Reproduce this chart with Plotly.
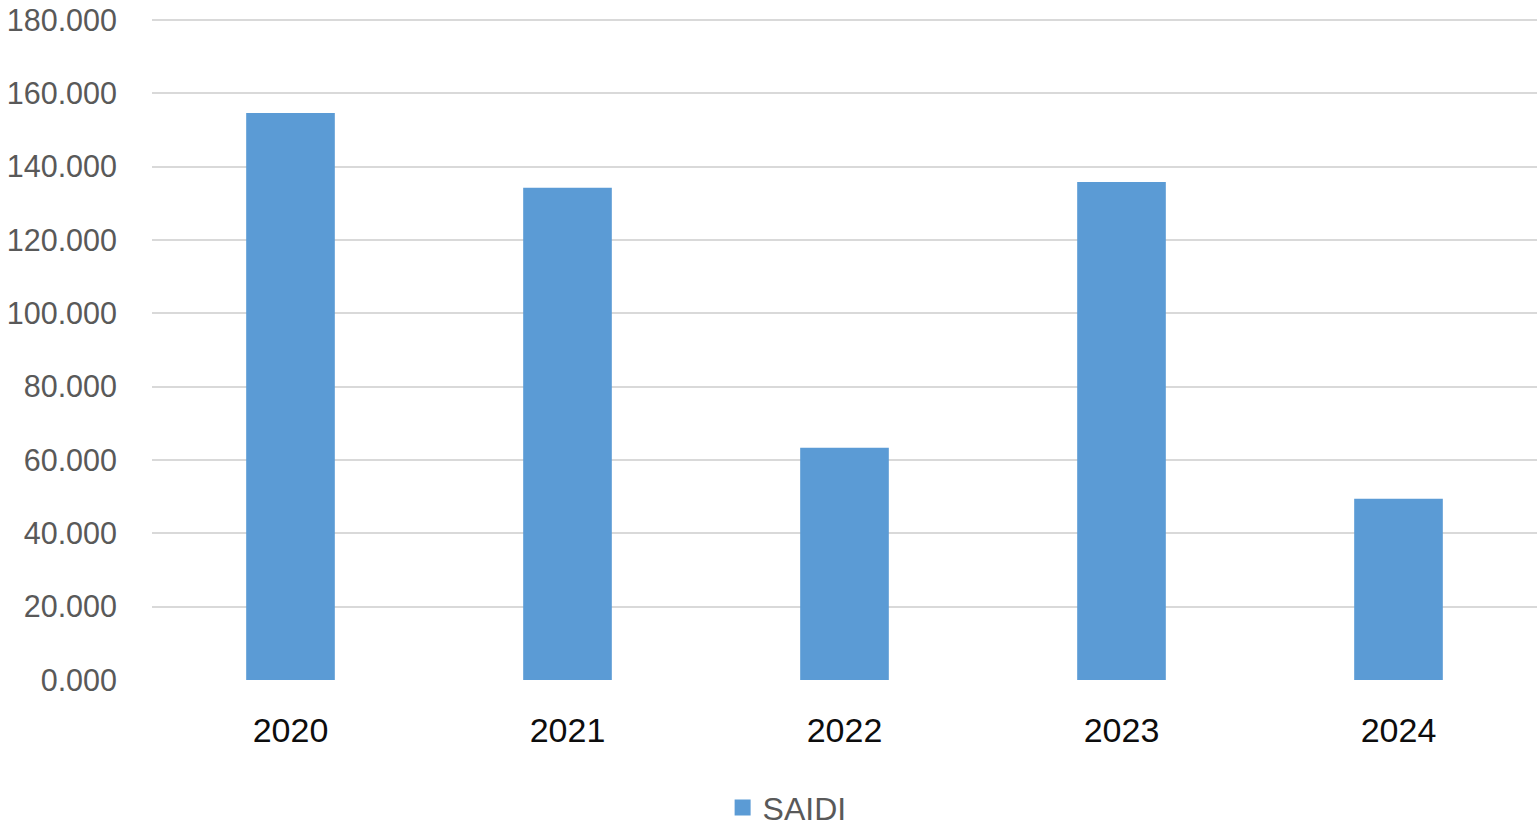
import plotly.graph_objects as go

years = ["2020", "2021", "2022", "2023", "2024"]
saidi = [154.6, 134.2, 63.3, 135.8, 49.4]
y_ticks = [0, 20, 40, 60, 80, 100, 120, 140, 160, 180]
series_name = "SAIDI"
bar_color = "#5B9BD5"

fig = go.Figure()
fig.add_trace(go.Bar(
    x=years, y=saidi, name=series_name,
    marker=dict(color=bar_color, line=dict(width=0)),
    showlegend=False,
))
# legend entry with a larger square symbol
fig.add_trace(go.Scatter(
    x=[None], y=[None], mode="markers", name=series_name,
    marker=dict(symbol="square", size=19, color=bar_color),
    showlegend=True, hoverinfo="skip",
))

fig.update_layout(
    width=1537, height=827,
    margin=dict(l=152, r=0, t=18.17, b=147, autoexpand=False),
    paper_bgcolor="white", plot_bgcolor="white",
    bargap=0.68,
    font=dict(family="Liberation Sans, Arial, sans-serif", color="#595959"),
    showlegend=True,
    legend=dict(
        orientation="h", x=0.412, xanchor="left", y=-0.193, yanchor="middle",
        font=dict(size=32, color="#595959"),
        itemwidth=30,
    ),
)
fig.update_xaxes(
    type="category",
    showgrid=False, showline=False, zeroline=False,
    tickfont=dict(size=34, color="#0d0d0d"),
    ticks="", ticklabelstandoff=27,
)
fig.update_yaxes(
    range=[0, 180.5], tickvals=y_ticks, tickformat=".3f",
    showgrid=True, gridcolor="#D9D9D9", gridwidth=2,
    zeroline=False, showline=False,
    tickfont=dict(size=30.5, color="#595959"),
    ticks="", ticklabelstandoff=34,
)

fig.write_html(
    "out.html",
    config={"displayModeBar": False},
    post_script="document.body.style.margin='0';",
)
